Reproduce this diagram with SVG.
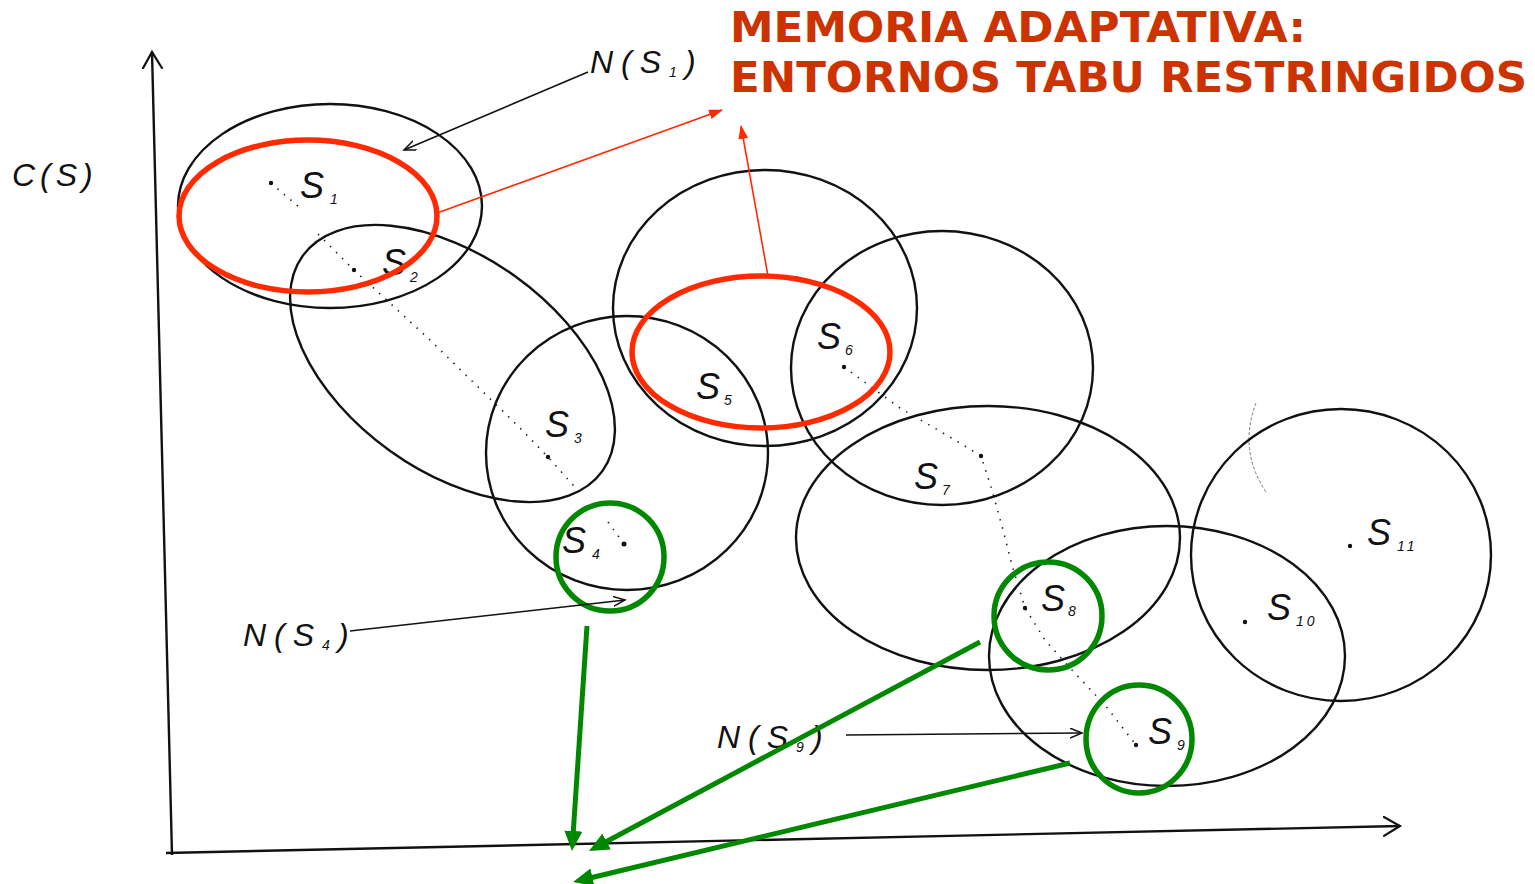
<svg xmlns="http://www.w3.org/2000/svg" width="1535" height="884" viewBox="0 0 1535 884">
<style>
.bg{fill:#fff}
.ell{fill:none;stroke:#111;stroke-width:2.4}
.red{fill:none;stroke:#ff2a00;stroke-width:5.5}
.grn{fill:none;stroke:#008800;stroke-width:5.5}
.axis{fill:none;stroke:#111;stroke-width:2.4}
.ptr{fill:none;stroke:#111;stroke-width:1.6}
.rl{fill:none;stroke:#ff2a00;stroke-width:1.6}
.gl{fill:none;stroke:#008800;stroke-width:5}
.traj{fill:none;stroke:#222;stroke-width:1.6;stroke-dasharray:1.5 7}
.lbl{font-family:"Liberation Sans",Arial,sans-serif;font-style:italic;fill:#111}
.s{font-size:36px}
.sub{font-size:14px}
.n{font-size:32px;letter-spacing:8px}
.dot{fill:#111}
.title{font-family:"DejaVu Sans",Verdana,sans-serif;font-weight:bold;font-size:43px;fill:#cc3300}
</style>
<defs>
<marker id="gArr" markerUnits="userSpaceOnUse" markerWidth="22" markerHeight="20" refX="8" refY="9" orient="auto"><path d="M0,0 L20,9 L0,18 z" fill="#008800"/></marker>
<marker id="rArr" markerUnits="userSpaceOnUse" markerWidth="16" markerHeight="12" refX="13" refY="5" orient="auto"><path d="M0,0 L14,5 L0,10 z" fill="#ff2a00"/></marker>
<marker id="bArr" markerUnits="userSpaceOnUse" markerWidth="14" markerHeight="12" refX="12" refY="5" orient="auto"><path d="M0,0 L12,5 L0,10" fill="none" stroke="#111" stroke-width="1.5"/></marker>
<marker id="axArr" markerUnits="userSpaceOnUse" markerWidth="20" markerHeight="22" refX="17" refY="10" orient="auto"><path d="M0,0 L17,10 L0,20" fill="none" stroke="#111" stroke-width="2.2"/></marker>
</defs>
<rect class="bg" x="0" y="0" width="1535" height="884"/>

<g id="title">
<text class="title" x="730" y="42" textLength="576" lengthAdjust="spacingAndGlyphs">MEMORIA ADAPTATIVA:</text>
<text class="title" x="730" y="92" textLength="797" lengthAdjust="spacingAndGlyphs">ENTORNOS TABU RESTRINGIDOS</text>
</g>

<g id="axes">
<path class="axis" d="M172,855 L152,52" marker-end="url(#axArr)"/>
<path class="axis" d="M166,853 L1400,826" marker-end="url(#axArr)"/>
<text class="lbl" x="12" y="186" style="font-size:32px;letter-spacing:5px">C(S)</text>
</g>

<g id="trajectory">
<path class="traj" d="M271,183 L300,208 M318,234 L354,270 L430,340 L520,428 L548,457 L582,495 M608,522 L624,544"/>
<path class="traj" d="M844,367 L900,408 L955,440 L981,456 L992,490 L1003,530 L1012,565 L1025,608 L1045,640 L1070,668 L1105,705 L1136,745"/>
<path d="M1256,403 Q1238,450 1266,492" fill="none" stroke="#666" stroke-width="0.9" stroke-dasharray="3 2"/>
</g>

<g id="neighborhoods">
<ellipse id="N1" class="ell" cx="330" cy="206" rx="152" ry="102"/>
<ellipse id="N2" class="ell" cx="452.5" cy="363.5" rx="184.5" ry="107.4" transform="rotate(35.7 452.5 363.5)"/>
<ellipse id="N4" class="ell" cx="627" cy="453" rx="141" ry="137"/>
<ellipse id="N5" class="ell" cx="765" cy="308" rx="152" ry="138"/>
<ellipse id="N6" class="ell" cx="942" cy="368" rx="151" ry="137"/>
<ellipse id="N7" class="ell" cx="988" cy="538" rx="192" ry="132"/>
<ellipse id="N9" class="ell" cx="1167" cy="656" rx="178" ry="130"/>
<ellipse id="N11" class="ell" cx="1341" cy="555" rx="150" ry="146"/>
</g>

<g id="solutions">
<g id="S1"><circle class="dot" cx="271" cy="183" r="2.2"/><text class="lbl s" x="300" y="198">S</text><text class="lbl sub" x="330" y="204">1</text></g>
<g id="S2"><circle class="dot" cx="354" cy="270" r="2.2"/><text class="lbl s" x="382" y="275">S</text><text class="lbl sub" x="410" y="282">2</text></g>
<g id="S3"><circle class="dot" cx="548" cy="457" r="2.2"/><text class="lbl s" x="545" y="437">S</text><text class="lbl sub" x="574" y="443">3</text></g>
<g id="S4"><circle class="dot" cx="624" cy="544" r="2.5"/><text class="lbl s" x="562" y="553">S</text><text class="lbl sub" x="592" y="559">4</text></g>
<g id="S5"><text class="lbl s" x="696" y="399">S</text><text class="lbl sub" x="724" y="405">5</text></g>
<g id="S6"><circle class="dot" cx="844" cy="367" r="2.2"/><text class="lbl s" x="817" y="349">S</text><text class="lbl sub" x="845" y="355">6</text></g>
<g id="S7"><circle class="dot" cx="981" cy="456" r="2.2"/><text class="lbl s" x="914" y="489">S</text><text class="lbl sub" x="942" y="495">7</text></g>
<g id="S8"><circle class="dot" cx="1025" cy="608" r="2.2"/><text class="lbl s" x="1041" y="611">S</text><text class="lbl sub" x="1068" y="616">8</text></g>
<g id="S9"><circle class="dot" cx="1136" cy="745" r="2.2"/><text class="lbl s" x="1148" y="744">S</text><text class="lbl sub" x="1177" y="750">9</text></g>
<g id="S10"><circle class="dot" cx="1245" cy="622" r="2.2"/><text class="lbl s" x="1267" y="620">S</text><text class="lbl sub" x="1296" y="626" style="letter-spacing:3px">10</text></g>
<g id="S11"><circle class="dot" cx="1350" cy="546" r="2.2"/><text class="lbl s" x="1367" y="545">S</text><text class="lbl sub" x="1397" y="551" style="letter-spacing:3px">11</text></g>
</g>

<g id="labels">
<text class="lbl n" x="590" y="73">N(S<tspan class="sub" dy="4">1</tspan><tspan dy="-4">)</tspan></text>
<text class="lbl n" x="243" y="646">N(S<tspan class="sub" dy="4">4</tspan><tspan dy="-4">)</tspan></text>
<text class="lbl n" x="717" y="748">N(S<tspan class="sub" dy="4">9</tspan><tspan dy="-4">)</tspan></text>
</g>

<g id="highlights">
<ellipse id="R1" class="red" cx="308" cy="216" rx="129" ry="76"/>
<ellipse id="R2" class="red" cx="761" cy="352" rx="129" ry="76"/>
<ellipse id="G1" class="grn" cx="610" cy="557" rx="54" ry="54"/>
<ellipse id="G2" class="grn" cx="1048" cy="616" rx="54" ry="54"/>
<ellipse id="G3" class="grn" cx="1139" cy="739" rx="53" ry="54"/>
</g>

<g id="connectors">
<path class="ptr" d="M588,72 L404,150" marker-end="url(#bArr)"/>
<path class="ptr" d="M350,631 L625,600" marker-end="url(#bArr)"/>
<path class="ptr" d="M846,735 L1082,733" marker-end="url(#bArr)"/>
<path class="rl" d="M437,213 L722,110" marker-end="url(#rArr)"/>
<path class="rl" d="M768,276 L741,126" marker-end="url(#rArr)"/>
<path class="gl" d="M587,626 L572.8,839" marker-end="url(#gArr)"/>
<path class="gl" d="M980,642 L599.6,845.3" marker-end="url(#gArr)"/>
<path class="gl" d="M1070,763 L584.7,879.2" marker-end="url(#gArr)"/>
</g>
</svg>
